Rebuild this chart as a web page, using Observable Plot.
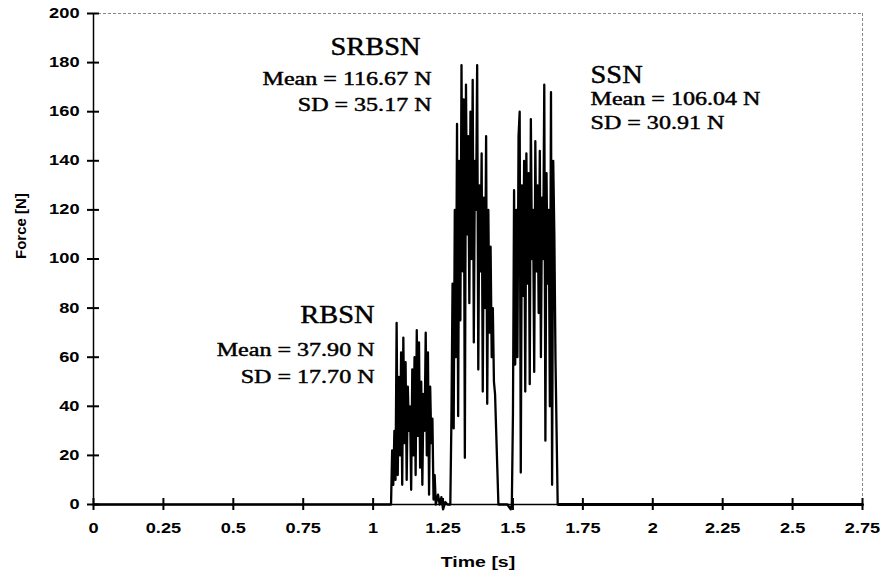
<!DOCTYPE html>
<html><head><meta charset="utf-8">
<script src="https://cdn.jsdelivr.net/npm/d3@7"></script>
<script src="https://cdn.jsdelivr.net/npm/@observablehq/plot@0.6"></script>
<style>body{margin:0;background:#fff}</style>
</head><body><div id="chart"></div>
<script>
// Sampling step of the digitised force signal (s)
const sampleStep = 0.004;
// Burst 1 (RBSN) starting at 1.064 s
const rbsnStart = 1.064;
const rbsnForce = [0,22,8,30,10,74,12,52,20,62,8,68,25,58,10,48,30,40,6,55,20,60,12,71,28,66,15,50,8,45,30,70,20,62,4,48,25,35,2,12,0];
// gap between bursts
const gap1Times = [1.232,1.238,1.244,1.25,1.258,1.266,1.272];
const gap1Force = [4,0,3,-2,1,0,0];
// Burst 2 (SRBSN) starting at 1.276 s
const srbsnStart = 1.276;
const srbsnForce = [0,35,90,31,120,60,155,36,140,75,179,95,165,19,171,110,150,82,160,100,173,66,140,120,179,55,130,95,143,46,125,80,150,41,120,70,105,60,80,50,45,30,15,0];
const gap2Times = [1.46,1.48,1.492];
const gap2Force = [0,0,-2];
// Burst 3 (SSN) starting at 1.496 s
const ssnStart = 1.496;
const ssnForce = [0,37,128,57,120,60,150,160,13,130,85,140,46,143,90,135,49,157,100,120,54,148,95,130,78,144,60,125,100,171,26,135,90,120,40,168,8,140,110,60,30,0];
// Resting baseline before and after
const restBefore = [0, 1.064];
const restAfter = [1.664, 2.75];

const xTicks = [0,0.25,0.5,0.75,1,1.25,1.5,1.75,2,2.25,2.5,2.75];
const yTicks = [0,20,40,60,80,100,120,140,160,180,200];
const headings = ["SRBSN", "RBSN", "SSN"];

const rows = [];
restBefore.forEach(t => rows.push({t, f: 0}));
rbsnForce.forEach((f, i) => rows.push({t: rbsnStart + i * sampleStep, f}));
gap1Times.forEach((t, i) => rows.push({t, f: gap1Force[i]}));
srbsnForce.forEach((f, i) => rows.push({t: srbsnStart + i * sampleStep, f}));
gap2Times.forEach((t, i) => rows.push({t, f: gap2Force[i]}));
ssnForce.forEach((f, i) => rows.push({t: ssnStart + i * sampleStep, f}));
const after = restAfter.map(t => ({t, f: 0}));

const serif = "'Liberation Serif', 'Times New Roman', serif";
const sans = "'Liberation Sans', Arial, sans-serif";
const ann = {fontFamily: serif, fill: "#000", stroke: "#000", strokeWidth: 0.45};
const headSize = 24.5, bodySize = 18.5;

const chart = Plot.plot({
  width: 883, height: 581,
  marginLeft: 93, marginRight: 21, marginTop: 13, marginBottom: 77,
  style: {fontFamily: sans, background: "#fff"},
  x: {domain: [0, 2.75]},
  y: {domain: [0, 200]},
  marks: [
    Plot.ruleY([200], {stroke: "#888", strokeDasharray: "3,2", strokeWidth: 1}),
    Plot.ruleX([2.75], {stroke: "#888", strokeDasharray: "3,2", strokeWidth: 1}),
    Plot.line(rows, {x: "t", y: "f", stroke: "#000", strokeWidth: 2.3}),
    Plot.line(after, {x: "t", y: "f", stroke: "#000", strokeWidth: 3}),
    // outward and inward tick marks (two axis passes)
    Plot.axisY({ticks: yTicks, tickSize: 6, tickPadding: 8, stroke: "#000", strokeWidth: 2, fontSize: 14, fontWeight: "bold", label: null}),
    Plot.axisY({ticks: yTicks, anchor: "left", tickSize: 6, dx: 6, stroke: "#000", strokeWidth: 2, fill: "none", label: null}),
    Plot.axisX({ticks: xTicks, tickSize: 6, tickPadding: 13, stroke: "#000", strokeWidth: 2, fontSize: 14, fontWeight: "bold",
      tickFormat: d => String(d), label: null}),
    Plot.axisX({ticks: xTicks, anchor: "bottom", tickSize: 6, dy: -6, stroke: "#000", strokeWidth: 2, fill: "none", label: null}),
    Plot.ruleX([0], {stroke: "#000", strokeWidth: 1.5}),
    Plot.ruleY([0], {stroke: "#000", strokeWidth: 1.5}),
    // axis titles
    Plot.text(["Force [N]"], {frameAnchor: "left", dx: -72, rotate: -90, text: d => d, fontSize: 15, fontWeight: "bold"}),
    Plot.text(["Time [s]"], {frameAnchor: "bottom", dy: 62, text: d => d, fontSize: 15, fontWeight: "bold"}),
    // annotations
    Plot.text([headings[0]], {x: 1.1695, y: 186.2, text: d => d, textAnchor: "end", fontSize: headSize, ...ann}),
    Plot.text(["Mean = 116.67 N", "SD = 35.17 N"], {x: 1.2089, y: (d, i) => [173.1, 162.9][i], text: d => d, textAnchor: "end", fontSize: bodySize, ...ann}),
    Plot.text([headings[1]], {x: 1.005, y: 77.3, text: d => d, textAnchor: "end", fontSize: headSize, ...ann}),
    Plot.text(["Mean = 37.90 N", "SD = 17.70 N"], {x: 1.005, y: (d, i) => [62.7, 52.1][i], text: d => d, textAnchor: "end", fontSize: bodySize, ...ann}),
    Plot.text([headings[2]], {x: 1.7775, y: 174.8, text: d => d, textAnchor: "start", fontSize: headSize, ...ann}),
    Plot.text(["Mean = 106.04 N", "SD = 30.91 N"], {x: 1.7775, y: (d, i) => [165.0, 155.2][i], text: d => d, textAnchor: "start", fontSize: bodySize, ...ann})
  ]
});
document.getElementById("chart").append(chart);
// the scanned original is stretched horizontally; widen the lettering the same way
d3.select(chart).selectAll("text").each(function() {
  const tr = this.getAttribute("transform") || "";
  if (tr.includes("rotate")) return;
  const w = this.getComputedTextLength();
  const k = headings.includes(this.textContent) ? 1.16 : 1.3;
  if (w > 0) {
    this.setAttribute("textLength", (w * k).toFixed(1));
    this.setAttribute("lengthAdjust", "spacingAndGlyphs");
  }
});
</script></body></html>
